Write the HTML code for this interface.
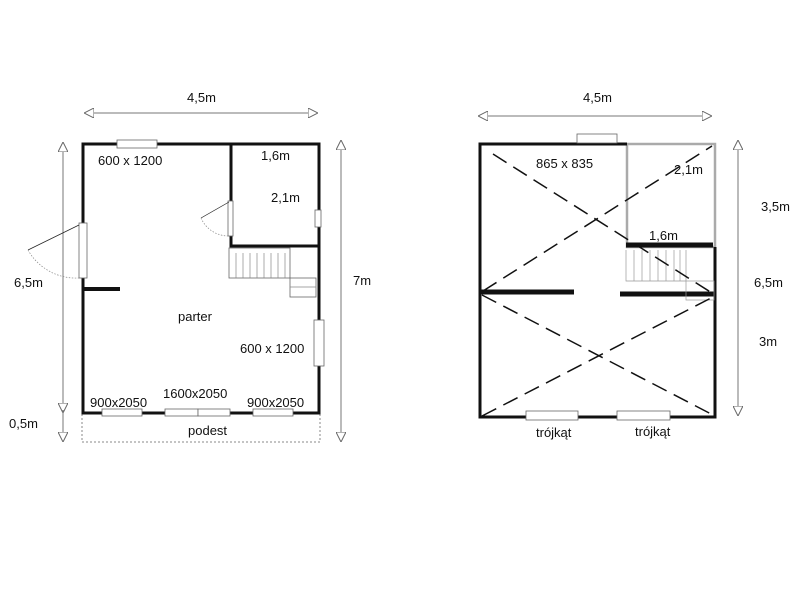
<!DOCTYPE html>
<html><head><style>body{margin:0;background:#fff}svg{display:block}text{font-family:"Liberation Sans",sans-serif;font-size:13px;fill:#111}</style></head><body>
<svg width="800" height="593" viewBox="0 0 800 593">
<defs>
<marker id="a" viewBox="0 0 10 10" refX="10" refY="5" markerWidth="10" markerHeight="10" orient="auto-start-reverse" markerUnits="userSpaceOnUse"><path d="M0,0L10,5L0,10Z" fill="#fff" stroke="#666" stroke-width="1"/></marker>
</defs>
<g stroke="#777" stroke-width="1" fill="none">
<line x1="84" y1="113" x2="318" y2="113" marker-start="url(#a)" marker-end="url(#a)"/>
<line x1="63" y1="142" x2="63" y2="413" marker-start="url(#a)" marker-end="url(#a)"/>
<line x1="63" y1="410" x2="63" y2="442" marker-end="url(#a)"/>
<line x1="341" y1="140" x2="341" y2="442" marker-start="url(#a)" marker-end="url(#a)"/>
<line x1="478" y1="116" x2="712" y2="116" marker-start="url(#a)" marker-end="url(#a)"/>
<line x1="738" y1="140" x2="738" y2="416" marker-start="url(#a)" marker-end="url(#a)"/>
</g>
<!-- left plan -->
<rect x="82" y="412" width="238" height="30" fill="none" stroke="#888" stroke-dasharray="2,2"/>
<g stroke="#111" stroke-width="3" fill="none">
<rect x="83" y="144" width="236" height="269"/>
<polyline points="231,144 231,246 319,246"/>
<line x1="83" y1="289" x2="120" y2="289" stroke-width="4"/>
</g>
<g stroke="#666" stroke-width="0.8" fill="#fff">
<rect x="117" y="140" width="40" height="8"/>
<rect x="79" y="223" width="8" height="55"/>
<rect x="228" y="201" width="5" height="35"/>
<rect x="315" y="210" width="6" height="17"/>
<rect x="314" y="320" width="10" height="46"/>
<rect x="102" y="409" width="40" height="7"/>
<rect x="165" y="409" width="33" height="7"/><rect x="198" y="409" width="32" height="7"/>
<rect x="253" y="409" width="40" height="7"/>
<rect x="229" y="248" width="61" height="30"/>
<rect x="290" y="278" width="26" height="19"/>
</g>
<g stroke="#888" stroke-width="0.7" fill="none">
<path d="M236,253V278M243,253V278M250,253V278M257,253V278M264,253V278M271,253V278M278,253V278M285,253V278M290,287H316"/>
<line x1="79" y1="225" x2="28" y2="250" stroke="#222"/>
<path d="M28,250 A55,55 0 0 0 79,278" stroke-dasharray="1.5,1.5"/>
<line x1="229" y1="202" x2="201" y2="218" stroke="#222"/>
<path d="M201,218 A30,30 0 0 0 229,236" stroke-dasharray="1.5,1.5"/>
</g>
<text x="187" y="102">4,5m</text>
<text x="98" y="165">600 x 1200</text>
<text x="261" y="160">1,6m</text>
<text x="271" y="202">2,1m</text>
<text x="14" y="287">6,5m</text>
<text x="353" y="285">7m</text>
<text x="178" y="321">parter</text>
<text x="240" y="353">600 x 1200</text>
<text x="163" y="398">1600x2050</text>
<text x="90" y="407">900x2050</text>
<text x="247" y="407">900x2050</text>
<text x="9" y="428">0,5m</text>
<text x="188" y="435">podest</text>
<!-- right plan -->
<g stroke="#aaa" stroke-width="2.5" fill="none"><polyline points="627,144 715,144 715,247 627,247 627,144"/></g>
<g stroke="#111" stroke-width="3" fill="none">
<polyline points="627,144 480,144 480,417 715,417 715,247"/>
<line x1="626" y1="245" x2="713" y2="245" stroke-width="5"/>
<line x1="480" y1="292" x2="574" y2="292" stroke-width="5"/>
<line x1="620" y1="294" x2="714" y2="294" stroke-width="5"/>
</g>
<g stroke="#666" stroke-width="0.8" fill="#fff">
<rect x="577" y="134" width="40" height="9"/>
<rect x="526" y="411" width="52" height="9"/>
<rect x="617" y="411" width="53" height="9"/>
</g>
<g stroke="#999" stroke-width="0.7" fill="none">
<path d="M626,250V281H686M686,250V281M634,250V281M642,250V281M650,250V281M658,250V281M666,250V281M674,250V281M680,250V281"/>
<rect x="686" y="281" width="28" height="19"/>
</g>
<g stroke="#111" stroke-width="1.5" stroke-dasharray="16,8" fill="none">
<line x1="483" y1="291" x2="712" y2="146"/>
<line x1="493" y1="154" x2="712" y2="293"/>
<line x1="482" y1="295" x2="713" y2="415"/>
<line x1="482" y1="416" x2="713" y2="297"/>
</g>
<text x="583" y="102">4,5m</text>
<text x="536" y="168">865 x 835</text>
<text x="674" y="174">2,1m</text>
<text x="649" y="240">1,6m</text>
<text x="761" y="211">3,5m</text>
<text x="754" y="287">6,5m</text>
<text x="759" y="346">3m</text>
<text x="536" y="437">trójkąt</text>
<text x="635" y="436">trójkąt</text>
</svg>
</body></html>
